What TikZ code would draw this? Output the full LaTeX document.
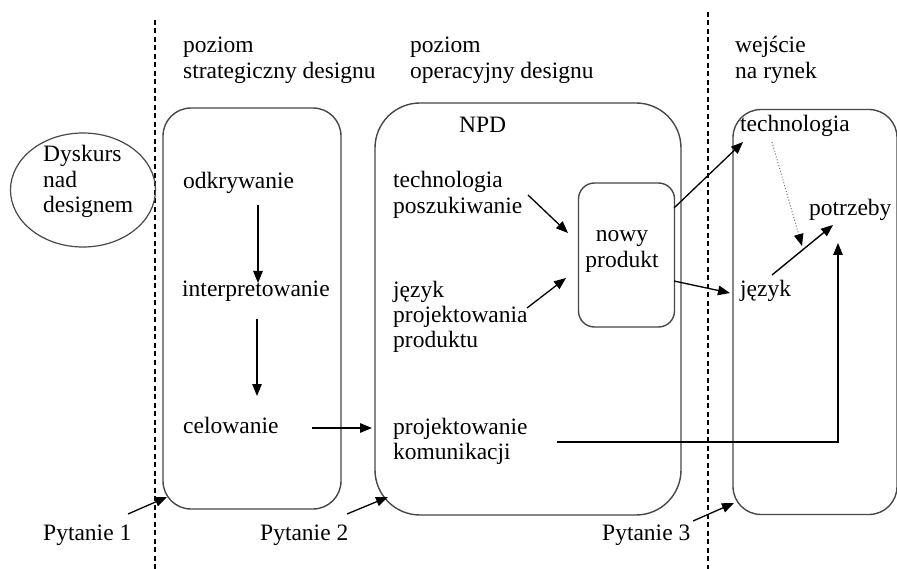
\documentclass[tikz,border=0pt]{standalone}
\usepackage{fontspec}
\setmainfont{Liberation Serif}
\usetikzlibrary{arrows.meta,shapes.geometric}

\begin{document}
\begin{tikzpicture}[x=1pt,y=-1pt,
  lbl/.style={anchor=base west,inner sep=0pt,align=left,font=\fontsize{23.5}{25.5}\selectfont},
  clbl/.style={anchor=base,inner sep=0pt,align=center,font=\fontsize{23.5}{25.5}\selectfont},
  frame/.style={draw=black!72,line width=1.4pt,rounded corners=#1,inner sep=0pt},
  arr/.style={-{Triangle[length=12pt,width=9.5pt]},line width=1.3pt},
  sep/.style={dash pattern=on 5pt off 3.5pt,line width=1.2pt}]
\useasboundingbox (0,0) rectangle (897,569);

% phase separators
\coordinate (s1t) at (155,20);  \coordinate (s1b) at (155,569);
\coordinate (s2t) at (708,12);  \coordinate (s2b) at (708,569);
\draw[sep] (s1t) -- (s1b);
\draw[sep] (s2t) -- (s2b);

% frames
\node[draw=black!72,line width=1.2pt,ellipse,minimum width=145pt,minimum height=114pt] (disc) at (83,190) {};
\node[frame=28pt,minimum width=178pt,minimum height=401pt] (strat) at (252,308.5) {};
\node[frame=45pt,minimum width=306pt,minimum height=412pt] (oper) at (528,309) {};
\node[frame=28pt,minimum width=164pt,minimum height=405pt] (mkt) at (815,312) {};
\node[frame=16pt,minimum width=96pt,minimum height=144pt] (np) at (626.5,255) {};

% headings (multi-line nodes sit on the baseline of their last line)
\node[lbl] (h1) at (183,78.5) {poziom\\strategiczny designu};
\node[lbl] (h2) at (410,78.5) {poziom\\operacyjny designu};
\node[lbl] (h3) at (735,78.5) {wejście\\na rynek};

% texts
\node[lbl] (dys) at (43,213) {Dyskurs\\nad\\designem};
\node[lbl] (npd) at (459,133) {NPD};
\node[lbl] (odk) at (183,189) {odkrywanie};
\node[lbl] (int) at (182,297) {interpretowanie};
\node[lbl] (cel) at (183,433) {celowanie};
\node[lbl] (tech) at (393,213.5) {technologia\\poszukiwanie};
\node[lbl] (jez) at (393,348) {język\\projektowania\\produktu};
\node[lbl] (kom) at (393,459.5) {projektowanie\\komunikacji};
\node[clbl] (nowy) at (622,267.5) {nowy\\produkt};
\node[lbl] (tech2) at (740,132) {technologia};
\node[lbl] (potr) at (809,216) {potrzeby};
\node[lbl] (jez2) at (740,297) {język};
\node[lbl] (p1) at (43,540) {Pytanie 1};
\node[lbl] (p2) at (260,540) {Pytanie 2};
\node[lbl] (p3) at (602,540) {Pytanie 3};

% connector ends
\coordinate (a1s) at (258,205); \coordinate (a1e) at (258,283);
\coordinate (a2s) at (257,319); \coordinate (a2e) at (257,396);
\coordinate (a3s) at (312,428); \coordinate (a3e) at (372,428);
\coordinate (a4s) at (528,195); \coordinate (a4e) at (568,233);
\coordinate (a5s) at (527,308); \coordinate (a5e) at (566,278);
\coordinate (a6s) at (674,208); \coordinate (a6e) at (743,142);
\coordinate (a7s) at (674,281); \coordinate (a7e) at (730,293);
\coordinate (a8s) at (772,142); \coordinate (a8e) at (802,246);
\coordinate (a9s) at (772,275); \coordinate (a9e) at (833,225);
\coordinate (kms) at (557,442); \coordinate (kmc) at (838,442); \coordinate (kme) at (838,243);
\coordinate (q1s) at (128,514); \coordinate (q1e) at (167,497);
\coordinate (q2s) at (347,514); \coordinate (q2e) at (388,497);
\coordinate (q3s) at (693,521); \coordinate (q3e) at (734,503);

% connectors
\draw[arr] (a1s) -- (a1e);
\draw[arr] (a2s) -- (a2e);
\draw[arr] (a3s) -- (a3e);
\draw[arr] (a4s) -- (a4e);
\draw[arr] (a5s) -- (a5e);
\draw[arr] (a6s) -- (a6e);
\draw[arr] (a7s) -- (a7e);
\draw[arr,line width=1.4pt] (a9s) -- (a9e);
\draw[line width=1pt,black!55,dotted,-{Triangle[length=12pt,width=9.5pt,black]}] (a8s) -- (a8e);
\draw[arr] (kms) -- (kmc) -- (kme);
\draw[arr] (q1s) -- (q1e);
\draw[arr] (q2s) -- (q2e);
\draw[arr] (q3s) -- (q3e);
\end{tikzpicture}
\end{document}
